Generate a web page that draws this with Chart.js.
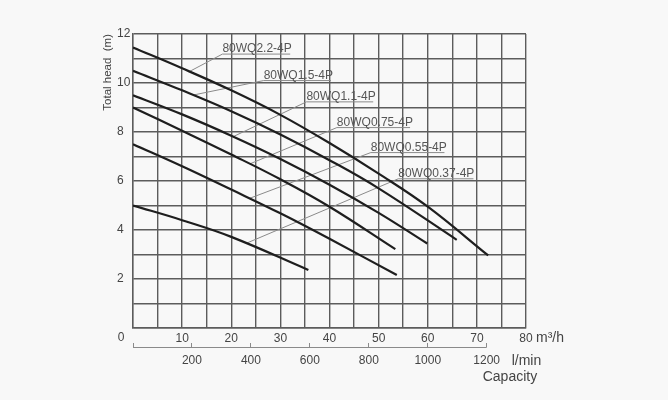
<!DOCTYPE html>
<html><head><meta charset="utf-8">
<script src="https://cdn.jsdelivr.net/npm/chart.js@4"></script>
<style>html,body{margin:0;padding:0;background:#f8f8f8}canvas{display:block}</style>
</head><body>
<canvas id="c" width="668" height="400"></canvas>
<script>
// ---- data (flow in m3/h, head in m) ----
const seriesNames = ['80WQ2.2-4P','80WQ1.5-4P','80WQ1.1-4P','80WQ0.75-4P','80WQ0.55-4P','80WQ0.37-4P'];
const flow22  = [0,10,20,30,40,50,60,72.3];
const head22  = [11.45,10.6,9.7,8.7,7.55,6.3,4.95,2.96];
const flow15  = [0,10,20,30,40,50,65.9];
const head15  = [10.5,9.7,8.85,7.9,6.85,5.7,3.6];
const flow11  = [0,10,20,30,40,50,59.9];
const head11  = [9.5,8.72,7.85,6.9,5.85,4.7,3.45];
const flow075 = [0,10,20,30,40,53.4];
const head075 = [9.0,8.05,7.08,6.07,4.95,3.22];
const flow055 = [0,10,20,30,40,53.7];
const head055 = [7.5,6.6,5.65,4.68,3.64,2.16];
const flow037 = [0,10,20,35.7];
const head037 = [5.0,4.4,3.72,2.37];

// tick labels
const xTickLabels = [10,20,30,40,50,60,70,80];
const yTickLabels = [2,4,6,8,10,12];
const lminTickLabels = [200,400,600,800,1000,1200];

// label leaders: point on curve -> label underline
const leaderCurveX = [11.6,12.3,20.4,23.8,23.7,23.2];
const leaderCurveY = [10.48,9.51,7.81,6.7,5.29,3.47];
const labelX    = [18.2,26.6,35.3,41.5,48.4,54.0];
const labelEndX = [32.0,40.3,48.9,56.4,63.4,69.3];
const labelY    = [11.18,10.1,9.23,8.18,7.16,6.09];

const flows = [flow22,flow15,flow11,flow075,flow055,flow037];
const heads = [head22,head15,head11,head075,head055,head037];

Chart.defaults.font.family = "'Liberation Sans', Arial, sans-serif";
Chart.defaults.color = '#444';

const curveSets = flows.map((f,i)=>({
  label: seriesNames[i],
  data: f.map((x,j)=>({x:x,y:heads[i][j]})),
  borderColor:'#1e1e1e', borderWidth:2.2, pointRadius:0,
  tension:0.4, fill:false
}));
const leaderSets = seriesNames.map((n,i)=>({
  label: n+' leader',
  data:[{x:leaderCurveX[i],y:leaderCurveY[i]},{x:labelX[i],y:labelY[i]},{x:labelEndX[i],y:labelY[i]}],
  borderColor:'#8a8a8a', borderWidth:1, pointRadius:0, tension:0, fill:false
}));

const gridColor = '#5c5c5c';
const stepTicks = (min,max,step)=>{const a=[];for(let v=min;v<=max+1e-9;v+=step)a.push({value:v});return a;};

const extras = {
  id:'extras',
  afterDatasetsDraw(chart){
    const {ctx, scales:{x,y,x2}} = chart;
    ctx.save();
    // secondary axis line (l/min)
    ctx.strokeStyle='#8a8a8a'; ctx.lineWidth=1;
    const ly = Math.round(x2.top + 4) + 0.5;
    ctx.beginPath();
    ctx.moveTo(x2.getPixelForValue(0), ly);
    ctx.lineTo(x2.getPixelForValue(1200), ly);
    ctx.stroke();
    // axis texts
    ctx.fillStyle='#444'; ctx.textBaseline='middle';
    ctx.font="12px 'Liberation Sans', Arial, sans-serif";
    ctx.textAlign='center';
    ctx.fillText('0', x.left-12, x.top+10);
    ctx.textAlign='left';
    ctx.font="14px 'Liberation Sans', Arial, sans-serif";
    ctx.fillText('m\u00B3/h', x.right+10, x.top+10);
    ctx.fillText('l/min', x2.getPixelForValue(1200)+25, 361);
    ctx.fillText('Capacity', x2.getPixelForValue(1200)-4, 377);
    // series labels
    ctx.font="12px 'Liberation Sans', Arial, sans-serif";
    ctx.fillStyle='#555'; ctx.textBaseline='alphabetic';
    seriesNames.forEach((n,i)=>{
      ctx.fillText(n, x.getPixelForValue(labelX[i]), y.getPixelForValue(labelY[i])-2);
    });
    ctx.restore();
  }
};

new Chart(document.getElementById('c'), {
  type:'line',
  data:{datasets:[...curveSets, ...leaderSets]},
  options:{
    responsive:false, animation:false, parsing:true,
    layout:{padding:{left:117,right:142,top:34,bottom:0}},
    plugins:{legend:{display:false}, tooltip:{enabled:false}},
    scales:{
      x:{type:'linear', position:'bottom', min:0, max:80, weight:0,
        afterBuildTicks:s=>{s.ticks=stepTicks(0,80,5);},
        ticks:{autoSkip:false, maxRotation:0, padding:3, font:{size:12},
          callback:v=>xTickLabels.includes(v)?String(v):''},
        grid:{color:gridColor, lineWidth:1.4, drawTicks:false},
        border:{color:gridColor, width:1.4},
        afterFit:s=>{s.height=15;}
      },
      x2:{type:'linear', position:'bottom', min:0, max:80*1000/60, weight:1,
        afterBuildTicks:s=>{s.ticks=[0,...lminTickLabels].map(v=>({value:v}));},
        ticks:{autoSkip:false, maxRotation:0, padding:6, font:{size:12},
          callback:v=>lminTickLabels.includes(v)?String(v):''},
        grid:{drawOnChartArea:false, drawTicks:true, tickLength:4, color:'#8a8a8a', lineWidth:1},
        border:{display:false},
        afterFit:s=>{s.height=57;}
      },
      y:{type:'linear', position:'left', min:0, max:12,
        afterBuildTicks:s=>{s.ticks=stepTicks(0,12,1);},
        ticks:{autoSkip:false, crossAlign:'far', font:{size:12},
          callback:v=>yTickLabels.includes(v)?String(v):''},
        grid:{color:gridColor, lineWidth:1.4, drawTicks:false},
        border:{color:gridColor, width:1.4},
        title:{display:true, text:'Total head  (m)', align:'end', color:'#444',
          font:{size:11.5}, padding:{top:-15.9,bottom:0}},
        afterFit:s=>{s.width=16;}
      }
    }
  },
  plugins:[extras]
});
</script>
</body></html>
